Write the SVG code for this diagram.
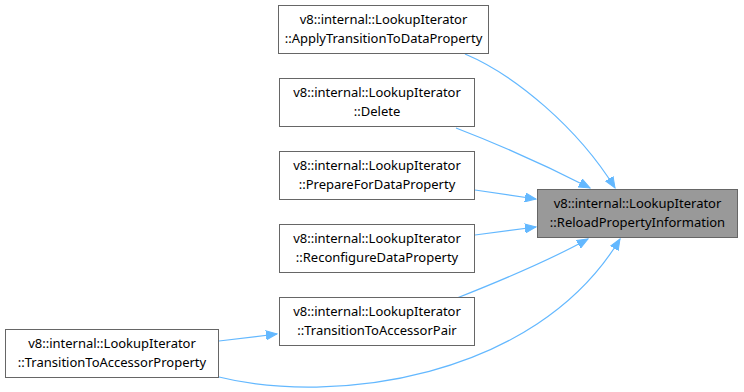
<svg xmlns="http://www.w3.org/2000/svg" width="744" height="392" viewBox="0 0 744 392">
  <style>
    .box { fill: #ffffff; stroke: #666666; stroke-width: 1; }
    .hl { fill: #999999; stroke: #666666; stroke-width: 1; }
    .lbl { font-family: "Noto Sans", "DejaVu Sans", sans-serif; font-size: 13px; fill: #000000; text-anchor: middle; }
    .edge { fill: none; stroke: #63b8ff; stroke-width: 1.2; marker-end: url(#arrow); }
  </style>
  <defs>
    <marker id="arrow" markerUnits="userSpaceOnUse" markerWidth="12" markerHeight="10" refX="11" refY="5" orient="auto">
      <path d="M0,0.5 L11,5 L0,9.5 Z" fill="#63b8ff" stroke="#63b8ff"/>
    </marker>
  </defs>
  <rect width="744" height="392" fill="#ffffff"/>

  <g id="edges">
    <path class="edge" d="M465,54 C515,75 578,128 615,188"/>
    <path class="edge" d="M456,128 C495,143 545,165 590,188"/>
    <path class="edge" d="M475,190 L536,199"/>
    <path class="edge" d="M475,235 L536,227"/>
    <path class="edge" d="M457,298 C495,283 550,260 588,239"/>
    <path class="edge" d="M219,341 L277,334"/>
    <path class="edge" d="M219,377 C330,405 535,380 620,239"/>
  </g>

  <g id="node-reload">
    <rect class="hl" x="537.5" y="189.5" width="200" height="48"/>
    <text class="lbl" x="637.5" y="208">v8::internal::LookupIterator</text>
    <text class="lbl" x="637.5" y="227">::ReloadPropertyInformation</text>
  </g>

  <g id="node-apply">
    <rect class="box" x="278.5" y="5.5" width="210" height="48"/>
    <text class="lbl" x="383.5" y="24">v8::internal::LookupIterator</text>
    <text class="lbl" x="383.5" y="43">::ApplyTransitionToDataProperty</text>
  </g>

  <g id="node-delete">
    <rect class="box" x="279.5" y="78.5" width="195" height="48"/>
    <text class="lbl" x="377" y="97">v8::internal::LookupIterator</text>
    <text class="lbl" x="377" y="116">::Delete</text>
  </g>

  <g id="node-prepare">
    <rect class="box" x="279.5" y="151.5" width="195" height="48"/>
    <text class="lbl" x="377" y="170">v8::internal::LookupIterator</text>
    <text class="lbl" x="377" y="189">::PrepareForDataProperty</text>
  </g>

  <g id="node-reconfigure">
    <rect class="box" x="279.5" y="224.5" width="195" height="48"/>
    <text class="lbl" x="377" y="243">v8::internal::LookupIterator</text>
    <text class="lbl" x="377" y="262">::ReconfigureDataProperty</text>
  </g>

  <g id="node-pair">
    <rect class="box" x="279.5" y="297.5" width="195" height="48"/>
    <text class="lbl" x="377" y="316">v8::internal::LookupIterator</text>
    <text class="lbl" x="377" y="335">::TransitionToAccessorPair</text>
  </g>

  <g id="node-property">
    <rect class="box" x="5.5" y="329.5" width="213" height="48"/>
    <text class="lbl" x="112" y="348">v8::internal::LookupIterator</text>
    <text class="lbl" x="112" y="367">::TransitionToAccessorProperty</text>
  </g>
</svg>
